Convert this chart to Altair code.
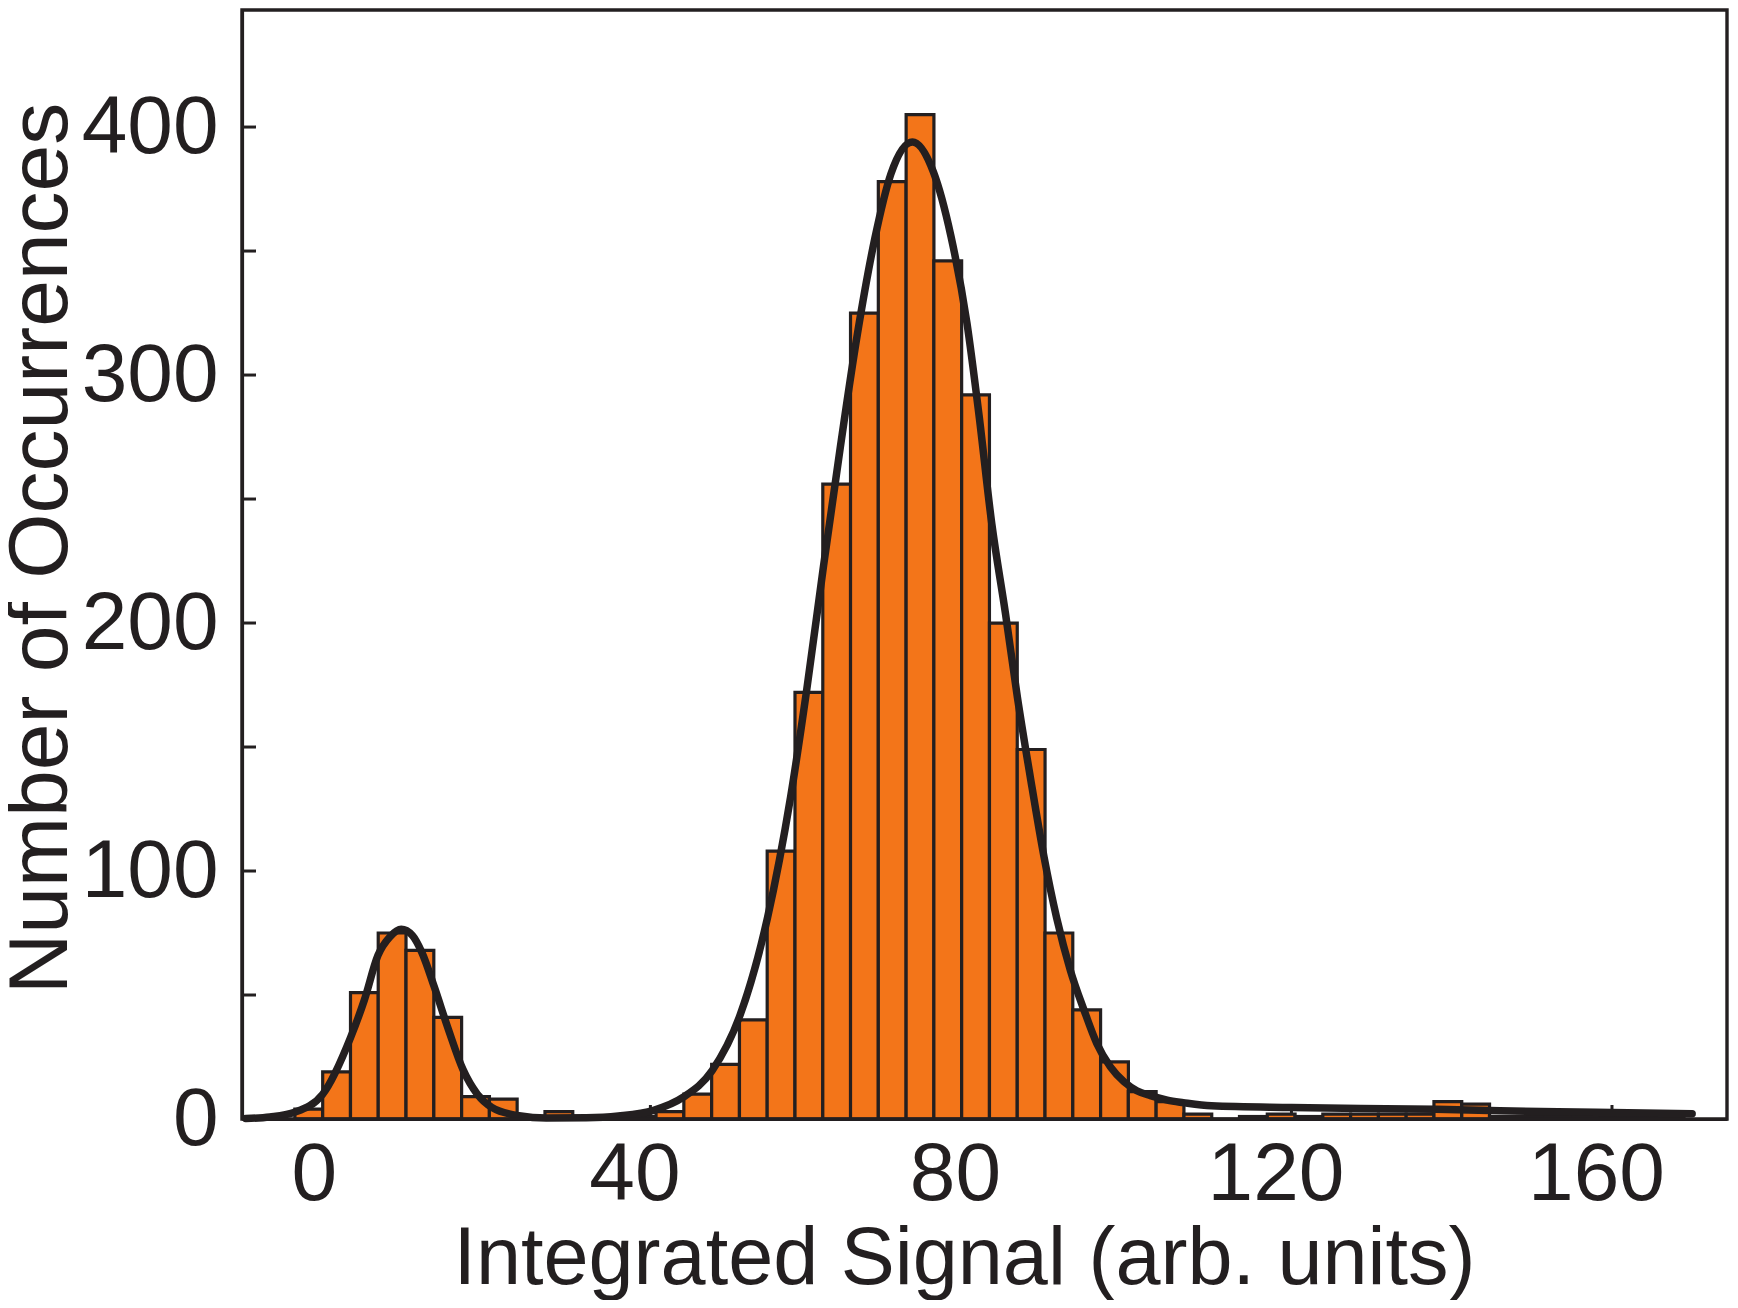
import altair as alt
import pandas as pd

# ---- data ----
BIN_LEFT = [-2.37, 1.10, 4.57, 8.03, 11.50, 14.97, 18.44, 21.90, 25.37, 28.84,
            32.30, 35.77, 39.24, 42.70, 46.17, 49.64, 53.11, 56.57, 60.04, 63.51,
            66.97, 70.44, 73.91, 77.37, 80.84, 84.31, 87.78, 91.24, 94.71, 98.18,
            101.64, 105.11, 108.58, 112.04, 115.51, 118.98, 122.45, 125.91, 129.38, 132.85,
            136.31, 139.78, 143.25, 146.71, 150.18, 153.65, 157.12, 160.58, 164.05, 167.52]
BIN_W = 3.467
COUNTS = [4, 19, 51, 75, 68, 41, 9, 8, 0, 3,
          1, 1, 1, 3, 10, 22, 40, 108, 172, 256,
          325, 378, 405, 346, 292, 200, 149, 75, 44, 23,
          11, 7, 2, 0, 1, 2, 1, 2, 2, 2,
          2, 7, 6, 1, 1, 1, 1, 1, 1, 1]

CURVE_X = [-8.5, -5.5, -2.5, 1.1, 4.6, 6.3, 8.0, 9.5, 10.9, 12.3, 13.5, 15.0, 16.8,
           18.6, 20.4, 22.2, 25.6, 29.0, 34.0, 38.0, 42.4, 46.1, 49.7, 53.2, 56.6,
           59.5, 61.5, 63.6, 65.7, 67.8, 70.0, 72.0, 74.7, 77.3, 79.5, 81.5, 83.0,
           84.6, 86.3, 87.8, 89.4, 91.1, 92.7, 94.4, 96.1, 97.7, 99.4, 101.1, 102.7,
           104.4, 106.5, 108.5, 112.0, 122.0, 140.0, 148.0, 160.0, 172.0]
CURVE_Y = [0.2, 0.8, 2.6, 10, 33, 48, 66, 73.5, 76.5, 74, 67, 53.5, 36,
           20, 10, 4.7, 1.3, 0.4, 0.5, 1.2, 3.5, 8.8, 19.5, 42, 81,
           130, 173, 223, 271, 316, 355, 381, 394, 382, 356, 321, 284,
           240, 204, 170, 138, 106, 81, 60, 44, 30.5, 21, 15, 11.4,
           9.4, 7.6, 6.6, 5.3, 4.6, 3.9, 3.3, 2.7, 2.1]

X_TICKS = [0, 40, 80, 120, 160]
Y_TICKS = [0, 50, 100, 150, 200, 250, 300, 350, 400]
Y_LABELS = [0, 100, 200, 300, 400]

X_TITLE = "Integrated Signal (arb. units)"
Y_TITLE = "Number of Occurrences"

# ---- styling ----
ORANGE = "#F37519"
DARK = "#231F20"
FONT = "Liberation Sans"
W, H = 1485, 1109

bars_df = pd.DataFrame({
    "left": BIN_LEFT,
    "right": [b + BIN_W for b in BIN_LEFT],
    "count": COUNTS,
    "base": [0] * len(COUNTS),
})
curve_df = pd.DataFrame({"x": CURVE_X, "y": CURVE_Y})
xt_df = pd.DataFrame({"v": X_TICKS})
yt_df = pd.DataFrame({"v": Y_TICKS})
frame_df = pd.DataFrame({"frame": [1]})

x_scale = alt.Scale(domain=[-8.97, 176.35], nice=False, zero=False)
y_scale = alt.Scale(domain=[0, 447.2], nice=False)

x_axis = alt.Axis(
    values=X_TICKS, ticks=False, tickSize=0, grid=False,
    labelFont=FONT, labelFontSize=82, labelColor=DARK, labelPadding=15,
    labelFlush=False, labelOverlap=False,
    domainColor=DARK, domainWidth=3.2,
    title=X_TITLE, titleFont=FONT, titleFontSize=81, titleFontWeight="normal",
    titleColor=DARK, titleX=722, titleY=164, titleBaseline="alphabetic",
    titleAlign="center",
)
y_axis = alt.Axis(
    values=Y_LABELS, ticks=False, tickSize=0, grid=False,
    labelFont=FONT, labelFontSize=82, labelColor=DARK, labelPadding=24,
    labelFlush=False, labelOverlap=False,
    domainColor=DARK, domainWidth=3.2,
    title=Y_TITLE, titleFont=FONT, titleFontSize=84, titleFontWeight="normal",
    titleColor=DARK, titleAngle=270, titleX=-176, titleY=538,
    titleBaseline="alphabetic", titleAlign="center",
)

yticks = alt.Chart(yt_df).mark_rule(color=DARK, strokeWidth=3).encode(
    y=alt.Y("v:Q", scale=y_scale, axis=y_axis),
    x=alt.value(0),
    x2=alt.value(14),
)
xticks = alt.Chart(xt_df).mark_rule(color=DARK, strokeWidth=3, xOffset=16).encode(
    x=alt.X("v:Q", scale=x_scale, axis=x_axis),
    y=alt.value(H),
    y2=alt.value(H - 14),
)
bars = alt.Chart(bars_df).mark_rect(fill=ORANGE, stroke=DARK, strokeWidth=3.2).encode(
    x=alt.X("left:Q", scale=x_scale, axis=x_axis),
    x2="right:Q",
    y=alt.Y("count:Q", scale=y_scale, axis=y_axis),
    y2="base:Q",
)
curve = alt.Chart(curve_df).mark_line(
    color=DARK, strokeWidth=7.5, interpolate="monotone", strokeCap="round"
).encode(
    x=alt.X("x:Q", scale=x_scale, axis=x_axis),
    y=alt.Y("y:Q", scale=y_scale, axis=y_axis),
)
# plot frame (top and right edges of the box)
frame = alt.Chart(frame_df).mark_rect(
    fillOpacity=0, stroke=DARK, strokeWidth=3.4
).encode(
    x=alt.value(0), x2=alt.value(W), y=alt.value(0), y2=alt.value(H)
)

chart = alt.layer(yticks, xticks, bars, curve, frame).properties(
    width=W, height=H,
    autosize=alt.AutoSizeParams(type="none"),
    padding={"left": 234, "top": 2, "right": 3, "bottom": 181},
).configure_view(
    stroke=None
).configure(background="white")

chart.save("out.html", embed_options={"renderer": "svg", "actions": False})
